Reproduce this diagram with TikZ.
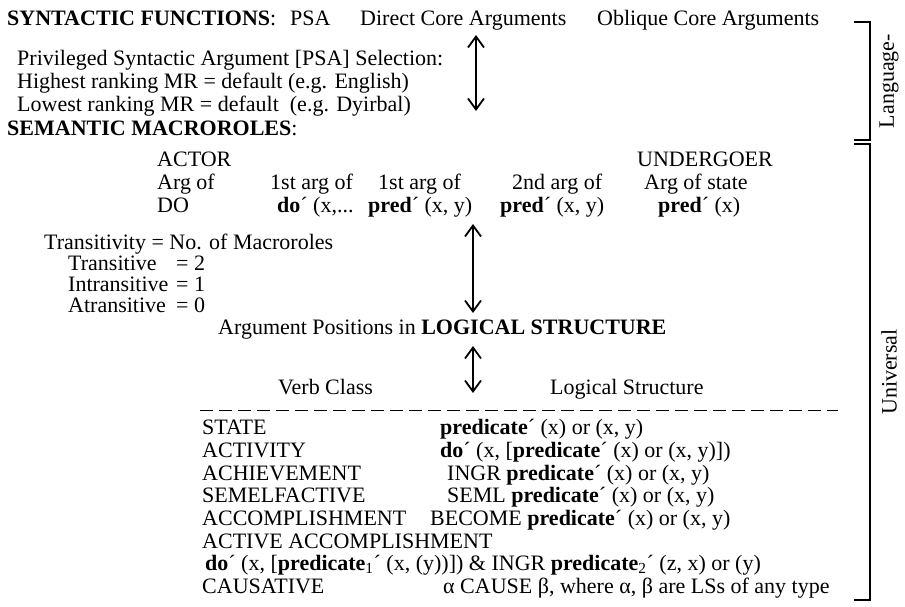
\documentclass[tikz,border=0pt]{standalone}
\usepackage{fontspec}
\setmainfont{Liberation Serif}
\usetikzlibrary{arrows.meta, positioning}

\begin{document}
\begin{tikzpicture}[x=1pt, y=-1pt,
  every node/.style={inner sep=0pt, anchor=base west,
    font=\fontsize{22}{24}\selectfont},
  twoway/.style={{Straight Barb[length=11pt, width=16pt]}-{Straight Barb[length=11pt, width=16pt]},
    line width=1.8pt},
  sidebar/.style={draw, line width=1.5pt},
  sidelabel/.style={rotate=90, anchor=center}
]
\useasboundingbox (0,0) rectangle (905,606);

% syntactic functions
\node (synf) at (7,25) {\textbf{SYNTACTIC FUNCTIONS}:};
\node (psa) at (290,25) {PSA};
\node (dca) at (360,25) {Direct Core Arguments};
\node (oca) at (597,25) {Oblique Core Arguments};

\node (sel1) at (17,65) {Privileged Syntactic Argument [PSA] Selection:};
\node (sel2) at (17,88) {Highest ranking MR = default (e.g. English)};
\node (sel3) at (17,111) {Lowest ranking MR = default\ \ (e.g. Dyirbal)};

% semantic macroroles
\node (semr) at (7,135) {\textbf{SEMANTIC MACROROLES}:};
\node (actor) at (157,166) {ACTOR};
\node (undg) at (637,166) {UNDERGOER};
\node (arg1) at (157,189) {Arg of};
\node (arg2) at (270,189) {1st arg of};
\node (arg3) at (378,189) {1st arg of};
\node (arg4) at (512,189) {2nd arg of};
\node (arg5) at (644,189) {Arg of state};
\node (pr1) at (157,212) {DO};
\node (pr2) at (277,212) {\textbf{do}´ (x,...};
\node (pr3) at (368,212) {\textbf{pred}´ (x, y)};
\node (pr4) at (500,212) {\textbf{pred}´ (x, y)};
\node (pr5) at (658,212) {\textbf{pred}´ (x)};

% transitivity
\node (trans) at (44,249) {Transitivity = No. of Macroroles};
\node (tr2) at (68,270) {Transitive};
\node (tr2v) at (176,270) {= 2};
\node (tr1) at (68,291) {Intransitive};
\node (tr1v) at (176,291) {= 1};
\node (tr0) at (68,312) {Atransitive};
\node (tr0v) at (176,312) {= 0};

% logical structure
\node (argpos) at (218,334) {Argument Positions in \textbf{LOGICAL STRUCTURE}};
\node (vclass) at (278,394) {Verb Class};
\node (lstr) at (550,394) {Logical Structure};

\coordinate (dashl) at (200,410);
\coordinate (dashr) at (838,410);
\draw[dash pattern=on 13pt off 6pt, line width=1pt] (dashl) -- (dashr);

\node (vc1) at (202,434) {STATE};
\node (ls1) at (440,434) {\textbf{predicate}´ (x) or (x, y)};
\node (vc2) at (202,457) {ACTIVITY};
\node (ls2) at (440,457) {\textbf{do}´ (x, [\textbf{predicate}´ (x) or (x, y)])};
\node (vc3) at (202,480) {ACHIEVEMENT};
\node (ls3) at (447,480) {INGR \textbf{predicate}´ (x) or (x, y)};
\node (vc4) at (202,502) {SEMELFACTIVE};
\node (ls4) at (447,502) {SEML \textbf{predicate}´ (x) or (x, y)};
\node (vc5) at (202,525) {ACCOMPLISHMENT};
\node (ls5) at (430,525) {BECOME \textbf{predicate}´ (x) or (x, y)};
\node (vc6) at (202,548) {ACTIVE ACCOMPLISHMENT};
\node (ls6) at (205,570) {\textbf{do}´ (x, [\textbf{predicate}\textsubscript{1}´ (x, (y))]) \& INGR \textbf{predicate}\textsubscript{2}´ (z, x) or (y)};
\node (vc7) at (202,593) {CAUSATIVE};
\node (ls7) at (443,593) {α CAUSE β, where α, β are LSs of any type};

% arrows
\coordinate (a1t) at (476,35);
\coordinate (a1b) at (476,111);
\coordinate (a2t) at (473,224);
\coordinate (a2b) at (473,313);
\coordinate (a3t) at (473,346);
\coordinate (a3b) at (473,393);
\draw[twoway] (a1t) -- (a1b);
\draw[twoway] (a2t) -- (a2b);
\draw[twoway] (a3t) -- (a3b);

% side brackets
\draw[sidebar] (854,22) -- (870,22) -- (870,140) -- (854,140);
\draw[sidebar] (854,144) -- (870,144) -- (870,600) -- (854,600);
\node[sidelabel] (lang) at (889,81) {Language-};
\node[sidelabel] (univ) at (889,372) {Universal};

\end{tikzpicture}
\end{document}
